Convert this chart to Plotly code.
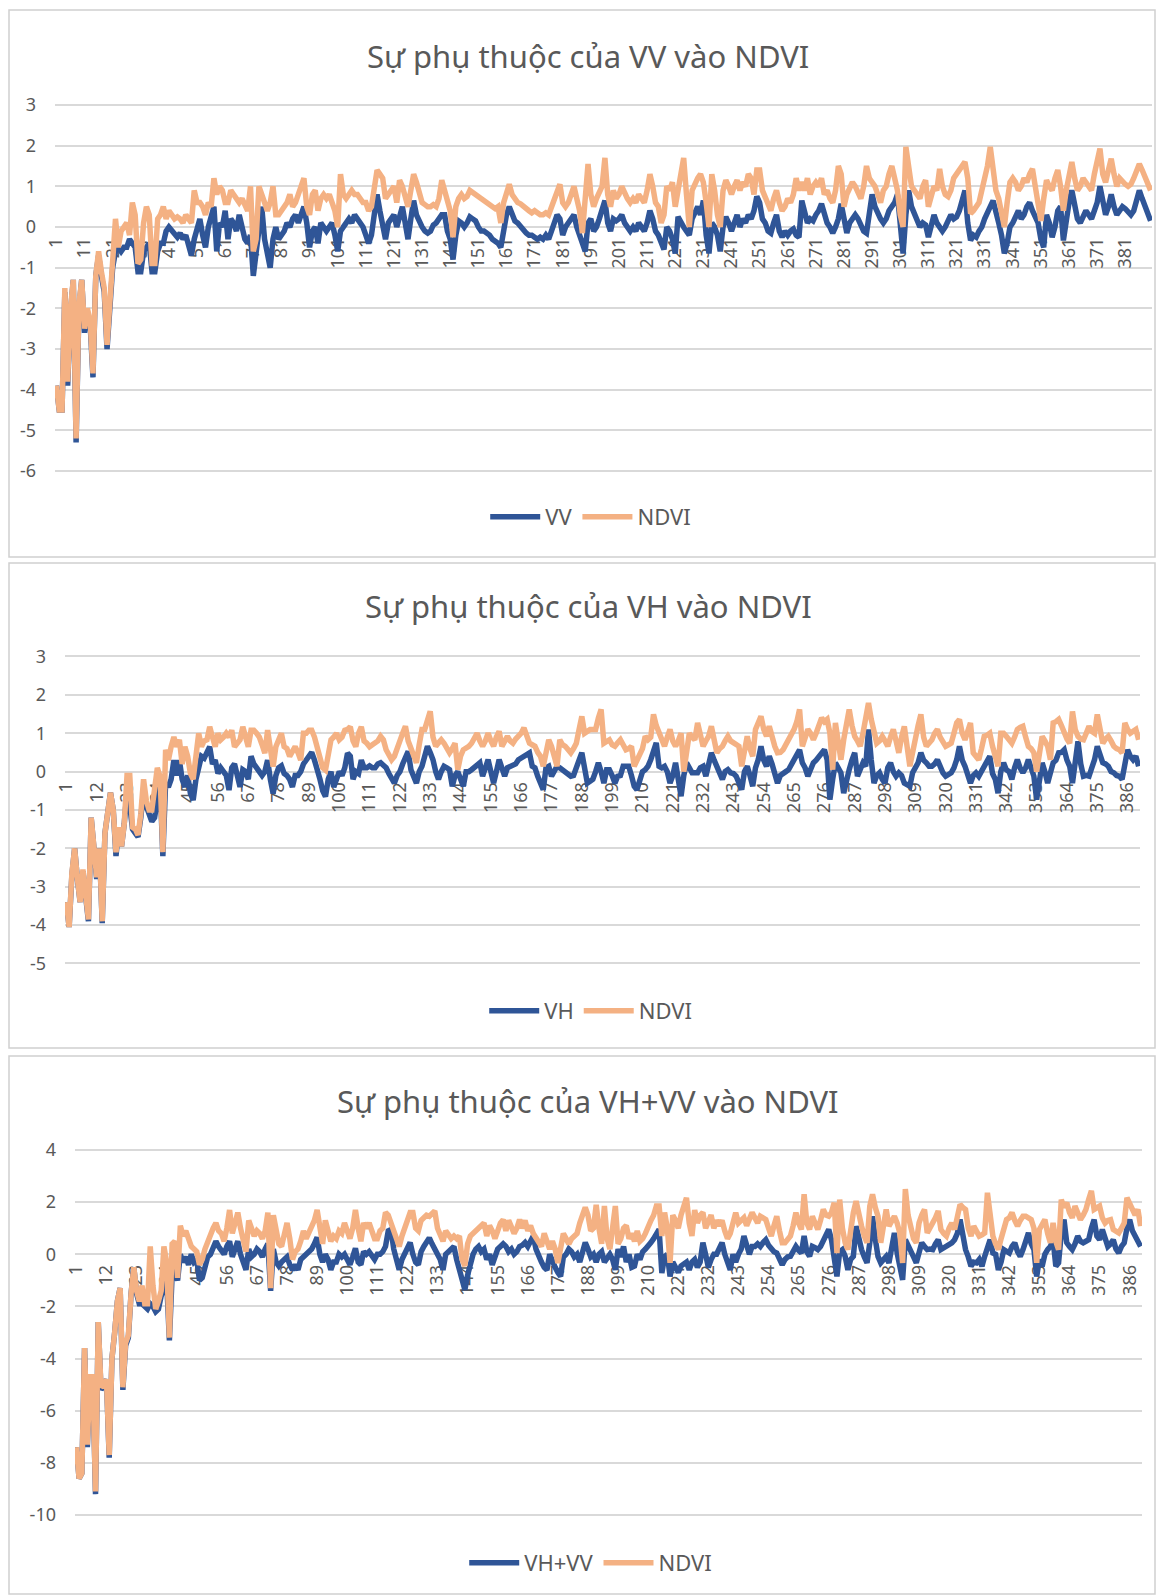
import plotly.graph_objects as go

# ---------------- data ----------------
TICKS_VV = [1, 11, 21, 31, 41, 51, 61, 71, 81, 91, 101, 111, 121, 131, 141, 151, 161, 171, 181, 191,
            201, 211, 221, 231, 241, 251, 261, 271, 281, 291, 301, 311, 321, 331, 341, 351, 361, 371, 381]
TICKS_VH = [1, 12, 23, 34, 45, 56, 67, 78, 89, 100, 111, 122, 133, 144, 155, 166, 177, 188, 199, 210,
            221, 232, 243, 254, 265, 276, 287, 298, 309, 320, 331, 342, 353, 364, 375, 386]

VV = [
    -3.9, -4.5, -4.5, -1.6, -3.9, -2.1, -1.3, -5.3, -2.0, -1.3,
    -2.6, -2.1, -2.4, -3.7, -1.2, -0.7, -1.2, -1.6, -3.0, -1.8,
    -1.0, -0.6, -0.5, -0.6, -0.5, -0.5, -0.3, -0.4, -0.5, -1.1,
    -1.1, -0.6, -0.5, -0.4, -1.1, -1.1, -0.6, -0.4, -0.4, -0.1,
    0.0, -0.1, -0.2, -0.25, -0.15, -0.3, -0.2, -0.4, -0.7, -0.3,
    0.0, 0.2, -0.2, -0.5, 0.0, 0.3, 0.5, -0.6, 0.1, 0.0,
    0.4, -0.3, 0.2, 0.1, -0.1, 0.3, 0.0, -0.3, -0.4, -0.2,
    -1.2, -0.6, 0.0, 0.5, -0.3, -0.6, -1.0, -0.3, 0.0, -0.3,
    -0.2, -0.1, 0.1, 0.0, 0.2, 0.3, 0.1, 0.3, 0.5, 0.1,
    -0.5, -0.1, 0.0, -0.4, 0.1, 0.0, -0.1, 0.0, 0.1, -0.2,
    -0.6, -0.1, 0.0, 0.1, 0.2, 0.1, 0.3, 0.2, 0.1, 0.0,
    -0.2, -0.4, -0.2, 0.3, 0.8, 0.4, 0.0, -0.3, 0.1, 0.2,
    0.3, 0.0, 0.3, 0.5, 0.1, -0.3, 0.2, 0.65, 0.3, 0.1,
    0.0, -0.1, -0.15, -0.1, 0.05, 0.1, 0.2, 0.3, 0.3, -0.1,
    -0.3, -0.8, -0.2, 0.15, 0.1, 0.0, 0.1, 0.25, 0.2, 0.15,
    0.0, -0.1, -0.1, -0.15, -0.2, -0.3, -0.35, -0.4, -0.5, -0.1,
    0.3, 0.5, 0.3, 0.15, 0.1, 0.0, -0.1, -0.15, -0.2, -0.2,
    -0.25, -0.3, -0.25, -0.3, -0.2, -0.3, -0.1, 0.1, 0.3, 0.2,
    -0.2, 0.0, 0.1, 0.2, 0.3, 0.0, -0.2, -0.4, -0.6, 0.1,
    0.2, -0.1, 0.0, 0.2, 0.4, 0.65, 0.1, -0.1, 0.2, 0.15,
    0.2, 0.3, 0.1, 0.0, -0.1, 0.0, -0.1, 0.1, 0.0, -0.1,
    0.1, 0.4, 0.2, -0.1, -0.2, -0.4, -0.55, 0.0, -0.1, -0.3,
    -0.65, 0.25, 0.1, 0.0, -0.1, -0.2, 0.2, 0.4, 0.5, 0.3,
    0.65, -0.2, -0.65, 0.1, 0.0, -0.2, -0.6, 0.0, 0.25, 0.1,
    -0.1, 0.1, 0.3, 0.0, 0.2, 0.1, 0.3, 0.2, 0.4, 0.75,
    0.6, 0.2, 0.1, -0.1, -0.15, 0.1, 0.3, -0.1, -0.25, -0.1,
    -0.2, -0.1, -0.05, -0.2, -0.25, 0.65, 0.3, 0.1, 0.2, 0.15,
    0.3, 0.4, 0.57, 0.3, 0.1, 0.0, -0.15, 0.0, 0.2, 0.57,
    0.1, -0.15, 0.1, 0.2, 0.3, 0.2, 0.0, -0.1, -0.15, 0.4,
    0.8, 0.5, 0.3, 0.2, 0.1, 0.2, 0.4, 0.5, 0.6, 0.8,
    0.2, -0.65, 0.3, 0.9, 0.5, 0.3, 0.1, 0.0, 0.1, 0.05,
    -0.25, 0.1, 0.3, 0.1, 0.0, -0.1, 0.0, 0.2, 0.3, 0.2,
    0.25, 0.4, 0.6, 0.9, 0.1, -0.33, -0.2, -0.25, -0.1, 0.0,
    0.2, 0.4, 0.5, 0.65, 0.3, 0.1, -0.2, -0.65, -0.4, 0.0,
    0.1, 0.3, 0.4, 0.2, 0.3, 0.5, 0.6, 0.4, 0.2, 0.1,
    -0.3, -0.5, 0.3, 0.1, -0.25, 0.0, 0.4, 0.5, -0.33, 0.2,
    0.6, 0.9, 0.5, 0.2, 0.1, 0.3, 0.4, 0.3, 0.2, 0.4,
    0.6, 1.0, 0.6, 0.3, 0.5, 0.8, 0.5, 0.3, 0.4, 0.5,
    0.45, 0.35, 0.3, 0.4, 0.7, 0.9, 0.7, 0.5, 0.35, 0.15,
]

NDVI_VV = [
    -3.9, -4.5, -4.5, -1.5, -3.8, -2.0, -1.3, -5.2, -1.9, -1.3,
    -2.5, -2.0, -2.3, -3.6, -1.2, -0.6, -1.1, -1.5, -2.9, -1.7,
    -0.9, 0.2, -0.5, -0.1, 0.0, 0.1, -0.2, 0.6, 0.3, -0.9,
    -0.8, 0.1, 0.5, 0.3, -0.9, -0.9, 0.2, 0.3, 0.5, 0.2,
    0.4, 0.3, 0.2, 0.25, 0.2, 0.1, 0.3, 0.2, 0.1, 0.9,
    0.6, 0.6, 0.5, 0.3, 0.6, 0.5, 1.2, 0.8, 1.0, 0.9,
    0.6, 0.6, 0.9, 0.8, 0.7, 0.6, 0.7, 0.5, 0.4, 1.0,
    -0.6, -0.3, 1.0, 0.8, 0.6, 0.4, 0.6, 1.0, 0.3, 0.3,
    0.4, 0.5, 0.6, 0.8, 0.5, 0.6, 0.8, 0.9, 1.2, 0.5,
    0.3, 0.8, 0.9, 0.4, 0.7, 0.8, 0.7, 0.8, 0.6, 0.4,
    0.0, 1.3, 0.8, 0.7, 0.8, 0.9, 0.8, 0.8, 0.7, 0.6,
    0.6, 0.4, 0.5, 1.0, 1.4, 1.3, 1.2, 0.7, 0.8, 0.9,
    1.0, 0.6, 1.15, 1.0, 0.7, 0.5, 0.9, 1.3, 1.1, 0.9,
    0.6, 0.55, 0.5, 0.5, 0.55, 0.5, 0.7, 1.15, 0.9, 0.6,
    0.4, -0.25, 0.5, 0.7, 0.8, 0.7, 0.75, 0.9, 0.85, 0.8,
    0.75, 0.7, 0.65, 0.6, 0.55, 0.5, 0.45, 0.5, 0.1, 0.6,
    0.9, 1.05, 0.8, 0.7, 0.6, 0.57, 0.5, 0.45, 0.4, 0.35,
    0.4, 0.35, 0.3, 0.3, 0.35, 0.3, 0.5, 0.6, 0.9, 1.05,
    0.6, 0.5, 0.6, 0.8, 1.0, 0.7, 0.4, -0.15, 0.6, 1.55,
    0.8, 0.5, 0.7, 0.9, 1.0, 1.7, 0.8, 0.5, 0.9, 0.7,
    0.8, 1.0, 0.8, 0.7, 0.6, 0.7, 0.6, 0.8, 0.7, 0.6,
    0.9, 1.3, 1.0, 0.6, 0.5, 0.1, 0.3, 1.0, 0.9, 1.1,
    0.5, 0.9, 1.2, 1.7, 0.8, 0.0, 0.9, 1.1, 1.2, 1.3,
    1.1, 0.6, 0.0, 1.3, 0.9, 0.3, 0.0, 0.9, 1.15, 1.0,
    0.8, 1.0, 1.15, 0.9, 1.1, 1.0, 1.3, 1.2, 0.8, 1.4,
    1.4, 0.9, 0.7, 0.5, 0.4, 0.7, 0.9, 0.6, 0.4, 0.5,
    0.7, 0.6, 0.8, 1.2, 0.9, 1.1, 0.9, 1.2, 0.8, 1.0,
    1.1, 1.0, 1.2, 0.8, 0.9, 0.7, 0.6, 0.9, 1.5, 1.3,
    0.5, 0.8, 1.0, 1.1, 1.0, 0.8, 0.7, 1.0, 1.5, 1.2,
    1.1, 1.0, 0.8, 0.6, 0.9, 1.0, 1.3, 1.5, 1.2, 0.9,
    0.3, 0.0, 1.97, 1.4, 1.0, 0.9, 0.8, 0.7, 1.0, 1.15,
    0.5, 0.8, 1.0, 0.9, 1.43, 1.0, 0.8, 0.75, 0.9, 1.2,
    1.3, 1.4, 1.5, 1.6, 1.2, 0.33, 0.4, 0.5, 0.6, 0.9,
    1.2, 1.5, 1.97, 1.4, 0.9, 0.7, 0.3, 0.0, 0.6, 1.1,
    1.2, 1.1, 0.9, 1.0, 1.2, 1.1, 1.3, 1.43, 1.0, 0.6,
    0.15, 0.7, 1.15, 1.0, 0.9, 1.2, 1.4, 1.0, 0.4, 0.9,
    1.3, 1.6, 1.2, 0.9, 1.0, 1.2, 1.1, 1.0, 0.9, 1.3,
    1.6, 1.93, 1.3, 1.1, 1.4, 1.68, 1.3, 1.0, 1.2, 1.1,
    1.05, 1.0, 1.05, 1.2, 1.4, 1.55, 1.4, 1.2, 1.0, 0.9,
]

VH = [
    -3.4, -4.05, -2.7, -2.0, -2.8, -3.4, -2.6, -3.2, -3.9, -1.2,
    -2.0, -2.8, -2.0, -3.95, -1.6, -1.0, -0.55, -1.0, -2.2, -1.45,
    -1.95, -1.35, -0.5, -0.9, -1.5, -1.6, -1.7, -1.2, -0.5, -0.9,
    -1.1, -1.3, -1.2, -0.6, -0.3, -2.2, -0.3, -0.4, -0.2, 0.3,
    -0.1, 0.3, -0.2, -0.4, -0.1, -0.57, -0.74, -0.2, 0.2, 0.4,
    0.35, 0.5, 0.65, 0.2, 0.3, -0.05, 0.1, 0.0, -0.1, -0.48,
    0.1, 0.2, -0.1, -0.4, 0.05, 0.0, -0.2, 0.4, 0.2, 0.1,
    -0.05, -0.1, 0.0, 0.3, -0.2, -0.57, -0.1, 0.1, 0.15, -0.05,
    -0.1, -0.2, -0.4, -0.1, -0.1, 0.0, 0.2, 0.3, 0.45, 0.5,
    0.3, 0.1, -0.2, -0.5, -0.65, -0.2, 0.0, -0.4, -0.2, 0.0,
    -0.1, 0.1, 0.48, 0.4, -0.2, 0.0, -0.05, 0.3, 0.1, 0.1,
    0.15, 0.1, 0.1, 0.2, 0.23, 0.15, 0.1, -0.05, -0.2, -0.3,
    -0.1, 0.0, 0.2, 0.4, 0.53, 0.05, -0.1, -0.3, 0.0, 0.14,
    0.4, 0.66, 0.5, 0.31, 0.0, -0.2, 0.0, 0.14, 0.1, 0.05,
    -0.38, -0.1, 0.0, -0.2, -0.38, 0.0, 0.0, 0.05, 0.1, 0.15,
    0.23, -0.12, 0.1, 0.31, 0.0, -0.3, 0.0, 0.31, 0.1, -0.12,
    0.1, 0.14, 0.14, 0.2, 0.31, 0.35, 0.4, 0.45, 0.49, 0.14,
    0.1, -0.12, -0.3, -0.47, 0.1, 0.14, -0.12, 0.0, 0.14, 0.1,
    0.05, 0.0, -0.03, -0.12, -0.1, 0.14, 0.3, 0.49, 0.1, -0.3,
    -0.25, -0.2, 0.0, 0.23, 0.0, -0.3, 0.05, 0.05, -0.1, -0.3,
    -0.12, -0.1, 0.14, 0.14, 0.14, -0.1, -0.38, -0.47, -0.2, 0.0,
    0.05, 0.14, 0.31, 0.5, 0.75, 0.14, 0.1, 0.14, 0.0, -0.3,
    -0.1, 0.23, -0.2, -0.64, -0.1, 0.23, 0.1, -0.03, -0.03, -0.03,
    0.1, 0.14, -0.12, 0.2, 0.49, 0.3, 0.14, -0.05, -0.2, 0.0,
    0.05, -0.03, -0.05, -0.12, -0.3, -0.47, 0.0, 0.14, -0.1, -0.38,
    0.1, 0.31, 0.66, 0.3, 0.14, 0.4, 0.2, -0.12, -0.3, -0.1,
    -0.03, 0.0, 0.05, 0.2, 0.31, 0.45, 0.57, 0.23, 0.1, -0.12,
    0.1, 0.23, 0.3, 0.4, 0.5, 0.57, 0.31, -0.73, -0.2, 0.23,
    0.1, -0.03, -0.56, -0.2, 0.05, 0.3, 0.49, -0.12, 0.1, 0.23,
    0.14, 1.1, 0.3, -0.3, -0.1, -0.03, -0.2, -0.3, 0.1, 0.23,
    0.0, -0.12, -0.03, -0.1, -0.3, -0.35, -0.38, -0.03, 0.1, 0.23,
    0.49, 0.3, 0.23, 0.14, 0.14, 0.2, 0.31, 0.1, -0.03, -0.12,
    -0.05, -0.03, 0.1, 0.31, 0.66, 0.3, 0.14, -0.1, -0.3, -0.1,
    -0.03, -0.12, 0.0, 0.14, 0.3, 0.4, -0.05, -0.2, -0.56, 0.0,
    0.23, 0.05, 0.0, -0.2, 0.1, 0.31, 0.1, -0.03, 0.1, 0.31,
    0.1, -0.12, -0.73, -0.2, 0.23, 0.0, -0.3, -0.03, 0.23, 0.3,
    0.49, 0.5, 0.57, 0.3, 0.14, -0.3, 0.3, 0.79, 0.2, -0.12,
    -0.1, -0.12, 0.1, 0.31, 0.66, 0.4, 0.23, 0.2, 0.14, 0.0,
    -0.03, -0.1, -0.12, -0.2, 0.3, 0.57, 0.4, 0.31, 0.4, 0.14,
]

NDVI_VH = [
    -3.4, -4.05, -2.65, -2.0, -2.8, -3.4, -2.55, -3.2, -3.85, -1.2,
    -2.0, -2.75, -2.0, -3.9, -1.6, -1.0, -0.55, -1.0, -2.1, -1.45,
    -1.95, -1.35, -0.1, -0.1, -1.45, -1.5, -1.65, -1.1, -0.2, -0.75,
    -1.0, -1.0, -0.4, 0.1, -0.13, -2.1, 0.57, 0.3, 0.65, 0.9,
    0.65, 0.83, 0.2, 0.65, 0.4, -0.05, -0.2, 0.6, 1.0, 0.65,
    0.8, 0.83, 1.17, 0.9, 0.65, 1.0, 0.83, 0.9, 1.0, 0.9,
    1.08, 0.65, 0.75, 0.83, 1.17, 0.9, 0.65, 1.08, 1.08, 1.0,
    0.9, 0.7, 0.48, 1.08, 0.6, 0.13, 0.65, 0.8, 1.0, 0.65,
    0.6, 0.4, 0.5, 0.65, 0.5, 0.3, 1.0, 1.0, 1.08, 1.08,
    0.9, 0.6, 0.3, 0.1, 0.04, 0.5, 0.83, 0.9, 1.0, 0.83,
    0.9, 1.08, 1.1, 1.17, 0.8, 0.65, 1.0, 1.17, 0.8, 0.74,
    0.65, 0.7, 0.74, 0.8, 0.92, 0.83, 0.57, 0.45, 0.31, 0.4,
    0.66, 0.8, 1.0, 1.18, 0.8, 0.57, 0.4, 0.23, 0.7, 1.1,
    1.1, 1.3, 1.57, 0.9, 0.66, 0.75, 0.83, 0.74, 0.6, 0.49,
    0.6, 0.74, 0.05, 0.4, 0.57, 0.6, 0.66, 0.74, 0.85, 1.0,
    0.8, 0.66, 0.8, 1.0, 0.8, 0.66, 0.9, 1.05, 0.66, 0.8,
    0.92, 0.8, 0.74, 0.85, 0.92, 1.0, 1.14, 0.9, 0.74, 0.7,
    0.66, 0.5, 0.4, 0.14, 0.6, 0.83, 0.66, 0.4, 0.14, 0.83,
    0.7, 0.66, 0.55, 0.49, 0.6, 0.74, 1.1, 1.44, 1.0, 1.05,
    1.1, 1.1, 1.1, 1.4, 1.62, 0.74, 0.8, 0.83, 0.7, 0.66,
    0.75, 0.83, 0.7, 0.57, 0.6, 0.66, 0.14, 0.3, 0.4, 0.6,
    0.92, 0.83, 0.9, 1.49, 1.2, 1.0, 0.8, 0.66, 0.9, 1.1,
    0.8, 0.66, 0.8, 1.0, 0.0, 0.6, 1.0, 0.9, 0.83, 1.27,
    0.9, 0.66, 0.8, 0.92, 1.18, 0.8, 0.49, 0.6, 0.66, 0.8,
    0.92, 0.8, 0.74, 0.7, 0.66, 0.14, 0.6, 0.92, 0.6, 0.4,
    1.1, 1.3, 1.44, 1.1, 0.92, 1.18, 0.9, 0.66, 0.49, 0.5,
    0.57, 0.7, 0.83, 1.0, 1.1, 1.3, 1.62, 0.66, 0.9, 1.1,
    1.0, 0.83, 1.0, 1.18, 1.4, 1.3, 1.36, 1.0, 0.05, 1.27,
    0.8, 0.31, 0.83, 1.2, 1.62, 1.2, 0.92, 0.8, 0.66, 1.0,
    1.4, 1.79, 1.36, 1.0, 0.74, 0.8, 0.92, 0.8, 0.66, 0.9,
    1.1, 0.8, 0.49, 0.9, 1.18, 0.66, 0.14, 0.5, 0.92, 1.2,
    1.49, 0.9, 0.66, 0.75, 0.83, 1.0, 1.1, 0.9, 0.74, 0.66,
    0.7, 0.74, 1.0, 1.27, 1.36, 1.0, 0.83, 1.1, 1.27, 0.49,
    0.4, 0.31, 0.6, 0.92, 0.95, 1.0, 0.66, 0.4, 0.14, 1.0,
    1.0, 0.92, 0.8, 0.74, 0.9, 1.1, 1.15, 1.18, 0.9, 0.66,
    0.6, 0.49, 0.0, 0.6, 0.92, 0.8, 0.66, 0.31, 1.27, 1.3,
    1.36, 1.2, 1.0, 0.85, 0.74, 1.57, 1.1, 0.92, 0.85, 0.83,
    1.0, 1.18, 1.05, 1.0, 1.49, 1.0, 0.74, 0.85, 0.92, 0.8,
    0.66, 0.6, 0.57, 0.49, 1.27, 1.1, 1.0, 1.05, 1.1, 0.83,
]

VHVV = [
    -7.4, -8.6, -8.4, -3.6, -7.4, -4.7, -4.7, -9.2, -2.6, -5.2,
    -5.0, -4.8, -7.8, -4.0, -3.0, -1.8, -1.3, -5.2, -3.5, -3.2,
    -1.5, -0.5, -1.5, -1.9, -1.9, -2.0, -2.1, -1.9, -2.0, -2.2,
    -2.1, -1.6, -1.3, -1.0, -3.3, -0.8, -0.7, -1.0, 0.0, -0.3,
    -0.1, -0.4, 0.0, -0.3, -0.2, -1.0, -0.9, -0.5, -0.1, 0.0,
    0.3, 0.5, 0.3, 0.1, 0.0, 0.3, 0.5, -0.1, 0.2, 0.5,
    0.0, -0.3, -0.6, 0.2, -0.1, 0.0, 0.2, 0.1, -0.1, 0.2,
    0.4, -1.4, 0.2, -0.3, -0.45, -0.3, -0.2, -0.1, -0.4, -0.6,
    -0.4, -0.6, -0.2, -0.1, 0.0, 0.1, 0.2, 0.4, 0.65, 0.0,
    -0.3, 0.0, -0.2, -0.6, -0.3, -0.3, 0.0, -0.1, 0.0, -0.2,
    -0.4, -0.1, 0.23, -0.3, -0.4, 0.1, 0.0, 0.1, -0.1, -0.2,
    0.0, 0.0, 0.1, 0.3, 0.9, 0.95, 0.2, -0.2, -0.6, -0.2,
    0.0, 0.3, 0.45, 0.0, -0.3, -0.4, 0.1, 0.3, 0.5, 0.63,
    0.4, 0.2, 0.0, -0.2, -0.6, 0.0, 0.1, 0.2, 0.3, -0.2,
    -0.6, -1.0, -1.36, -0.8, -0.3, 0.0, 0.2, 0.3, 0.1, 0.2,
    -0.2, 0.0, -0.4, -0.1, 0.2, 0.3, 0.4, 0.3, 0.1, 0.2,
    0.0, 0.1, 0.3, 0.35, 0.45, 0.3, 0.5, 0.7, 0.2, -0.1,
    -0.3, -0.5, -0.6, 0.0, -0.3, -0.5, -0.7, -0.85, -0.1, 0.0,
    0.2, 0.1, -0.1, 0.0, -0.3, 0.1, 0.45, 0.2, -0.1, 0.0,
    -0.3, 0.0, 0.1, -0.3, -0.1, 0.0, -0.2, -0.6, 0.2, -0.1,
    0.3, -0.3, 0.0, -0.5, -0.45, 0.0, -0.2, 0.1, 0.2, 0.3,
    0.45, 0.6, 0.8, 0.95, -0.72, -0.1, 0.0, -0.85, -0.3, -0.5,
    -0.7, -0.45, -0.4, -0.3, -0.6, -0.3, -0.2, -0.5, -0.3, 0.45,
    0.0, -0.5, -0.2, 0.0, 0.0, 0.2, 0.45, 0.0, -0.3, -0.6,
    0.0, -0.3, 0.0, 0.2, 0.7, 0.4, 0.0, 0.3, 0.3, 0.4,
    0.3, 0.45, 0.56, 0.35, 0.18, 0.1, 0.05, -0.2, -0.4, -0.2,
    -0.1, -0.08, 0.1, 0.3, 0.15, 0.05, 0.7, 0.1, -0.08, 0.3,
    0.25, 0.18, 0.3, 0.56, 0.8, 0.95, 0.56, -0.08, -0.85, 0.1,
    0.18, -0.08, -0.6, -0.2, -0.08, 1.08, 0.5, 0.18, -0.1, -0.33,
    0.44, 1.46, 0.6, -0.08, -0.33, -0.2, -0.08, -0.33, 0.4, 0.82,
    0.05, -0.5, -0.98, 0.56, 0.3, 0.05, -0.1, -0.33, 0.1, 0.44,
    0.3, 0.18, 0.2, 0.18, 0.4, 0.56, 0.18, 0.25, 0.3, 0.35,
    0.44, 0.56, 0.8, 1.33, 0.7, 0.18, -0.1, -0.46, -0.3, -0.33,
    -0.2, -0.46, -0.08, 0.3, 0.56, 0.05, 0.0, -0.6, -0.3, 0.18,
    0.1, 0.05, 0.3, 0.44, 0.1, -0.08, 0.18, 0.5, 0.82, 0.4,
    0.18, -0.85, -0.2, -0.46, 0.0, 0.18, 0.3, 0.56, -0.46, -0.33,
    0.8, 1.33, 0.44, 0.3, 0.18, 0.4, 0.7, 0.5, 0.44, 0.5,
    0.56, 1.0, 1.33, 0.7, 0.56, 0.95, 0.6, 0.3, 0.4, 0.56,
    0.2, 0.05, 0.3, 0.44, 1.0, 1.33, 0.9, 0.7, 0.5, 0.3,
]

NDVI_VHVV = [
    -7.4, -8.6, -8.4, -3.6, -7.3, -4.7, -4.7, -9.1, -2.6, -5.1,
    -5.0, -4.8, -7.7, -4.0, -3.0, -1.8, -1.3, -5.1, -3.4, -3.1,
    -1.5, -0.5, -1.4, -1.8, -1.2, -1.9, -1.9, 0.3, -1.2, -2.1,
    -1.8, -1.4, 0.3, -0.3, -3.2, 0.4, 0.5, -0.9, 1.1, 0.7,
    0.9, 0.5, 0.3, 0.2, 0.1, -0.4, -0.2, 0.2, 0.5, 0.8,
    1.0, 1.2, 0.9, 0.8, 0.5, 1.0, 1.7, 0.8, 1.3, 1.6,
    1.0, 0.6, 0.1, 1.3, 0.9, 0.7, 0.9, 0.8, 0.6, 0.9,
    1.6, -1.3, 1.5, 0.9, 0.4, 0.3, 0.8, 1.2, 0.6, -0.2,
    0.1, 0.2, 0.5, 0.9, 0.6, 0.8, 1.0, 1.3, 1.7, 0.9,
    0.4, 1.3, 0.9, 0.5, 0.7, 0.6, 0.9, 0.8, 1.2, 0.9,
    0.6, 1.0, 1.7, 1.0, 0.5, 1.2, 1.0, 1.2, 0.9, 0.6,
    0.6, 0.9, 1.0, 1.6, 1.5, 1.2, 0.8, 0.6, 0.3, 0.7,
    1.0, 1.4, 1.6, 1.6, 1.0, 0.9, 1.3, 1.4, 1.5, 1.46,
    1.6, 1.66, 1.0, 0.7, 0.5, 0.9, 0.7, 0.6, 0.7, 0.6,
    0.7, -0.2, -0.45, 0.4, 0.7, 0.8, 0.9, 1.0, 1.1, 1.2,
    0.7, 1.1, 0.9, 0.6, 0.9, 1.2, 1.33, 0.9, 1.3, 1.1,
    0.8, 1.0, 1.33, 1.0, 1.3, 0.9, 1.1, 0.8, 0.6, 0.4,
    0.3, 0.8, 0.5, 0.2, 0.5, 0.2, -0.33, 0.4, 0.8, 0.6,
    0.4, 0.6, 0.7, 0.8, 1.2, 1.5, 1.8, 1.5, 0.9, 1.0,
    1.9, 1.0, 0.4, 1.85, 0.6, 0.2, 1.0, 1.85, 0.4, 0.6,
    1.0, 1.1, 0.6, 0.8, 0.5, 0.9, 0.5, 0.6, 0.8, 1.1,
    1.3, 1.5, 1.85, 1.85, 0.7, 1.6, 1.0, -0.33, 1.5, 1.3,
    1.0, 1.5, 1.8, 2.17, 1.2, 0.7, 1.7, 1.2, 1.5, 1.6,
    1.0, 1.2, 1.5, 1.0, 1.3, 1.1, 1.3, 0.9, 0.6, 0.8,
    1.3, 1.6, 1.2, 1.3, 1.4, 1.1, 1.3, 1.6, 1.4, 1.2,
    1.46, 1.4, 1.33, 1.0, 0.7, 1.1, 1.46, 0.9, 0.44, 0.44,
    0.6, 0.7, 1.1, 1.6, 1.2, 0.95, 2.3, 1.2, 0.95, 1.46,
    1.2, 0.95, 1.3, 1.72, 1.5, 1.46, 1.6, 1.98, 0.05, 2.1,
    1.0, 0.44, 0.18, 1.08, 1.6, 2.04, 1.4, 1.08, 0.7, 0.44,
    1.85, 2.3, 1.8, 1.46, 0.44, 1.2, 1.72, 1.08, 1.3, 1.46,
    1.2, 0.8, -0.33, 2.5, 1.5, 1.08, 0.6, 0.44, 1.2, 1.5,
    1.72, 0.82, 1.0, 1.2, 1.4, 1.66, 0.95, 0.8, 0.7, 1.0,
    1.2, 0.95, 1.4, 1.91, 1.8, 1.72, 1.0, 0.7, 1.08, 0.9,
    0.7, 0.75, 0.82, 2.36, 1.5, 0.7, 0.4, 0.18, 0.6, 0.95,
    1.33, 1.4, 1.6, 1.3, 1.08, 1.3, 1.46, 1.46, 1.4, 1.33,
    1.0, -0.33, 0.95, 1.2, 1.33, 0.8, 0.44, 1.2, 0.5, 0.18,
    2.1, 1.8, 1.98, 1.6, 1.4, 1.85, 1.5, 1.33, 1.5, 1.72,
    2.1, 2.43, 1.72, 1.8, 1.85, 1.4, 1.2, 1.3, 1.33, 0.95,
    0.9, 0.82, 1.0, 1.2, 2.17, 1.9, 1.72, 1.5, 1.72, 1.08,
]

TITLES = ["Sự phụ thuộc của VV vào NDVI",
          "Sự phụ thuộc của VH vào NDVI",
          "Sự phụ thuộc của VH+VV vào NDVI"]
SERIES_NAMES = ["VV", "VH", "VH+VV"]

# ---------------- styling / layout ----------------
W, H = 1156, 1595
BLUE = "#2F5597"
ORANGE = "#F4B183"
GRAY = "#595959"
GRID = "#D9D9D9"
BORDER = "#D0D0D0"
FONT = "Noto Sans"


def py(px):
    return 1 - px / H


def pxx(px):
    return px / W


panels = [
    dict(s1=VV, s2=NDVI_VV, ticks=TICKS_VV, ymin=-6, ymax=3, dtick=1,
         ytop=105, ybot=471, xl=55, xr=1152, title_y=56, legend_y=517,
         box=(9, 10, 1155, 557)),
    dict(s1=VH, s2=NDVI_VH, ticks=TICKS_VH, ymin=-5, ymax=3, dtick=1,
         ytop=656.5, ybot=963.5, xl=65, xr=1140, title_y=606, legend_y=1011,
         box=(9, 563, 1155, 1048)),
    dict(s1=VHVV, s2=NDVI_VHVV, ticks=TICKS_VH, ymin=-10, ymax=4, dtick=2,
         ytop=1150, ybot=1515, xl=75, xr=1142, title_y=1101, legend_y=1563,
         box=(9, 1056, 1155, 1594)),
]

fig = go.Figure()
layout = dict(
    template="none",
    width=W, height=H, autosize=False,
    margin=dict(l=0, r=0, t=0, b=0, pad=0),
    paper_bgcolor="white", plot_bgcolor="white",
    font=dict(family=FONT, color=GRAY),
    showlegend=True,
    shapes=[], annotations=[],
)

for i, p in enumerate(panels, start=1):
    sfx = "" if i == 1 else str(i)
    xa, ya = "x" + sfx, "y" + sfx
    leg = "legend" + sfx
    ppu = (p["ybot"] - p["ytop"]) / (p["ymax"] - p["ymin"])
    pad = 0.06
    top_px = p["ytop"] - pad * ppu
    bot_px = p["ybot"] + pad * ppu
    zero_px = p["ytop"] + p["ymax"] * ppu

    x1 = list(range(1, len(p["s1"]) + 1))
    x2 = list(range(1, len(p["s2"]) + 1))
    fig.add_trace(go.Scatter(x=x1, y=p["s1"], mode="lines", name=SERIES_NAMES[i - 1],
                             line=dict(color=BLUE, width=5.5), xaxis=xa, yaxis=ya,
                             legend=leg, hoverinfo="skip"))
    fig.add_trace(go.Scatter(x=x2, y=p["s2"], mode="lines", name="NDVI",
                             line=dict(color=ORANGE, width=5.5), xaxis=xa, yaxis=ya,
                             legend=leg, hoverinfo="skip"))

    n = max(len(p["s1"]), len(p["s2"]))
    layout["xaxis" + sfx] = dict(
        domain=[pxx(p["xl"]), pxx(p["xr"])],
        range=[0.5, n + 0.5],
        anchor="free", position=py(zero_px),
        tickmode="array", tickvals=p["ticks"], ticktext=[str(t) for t in p["ticks"]],
        tickangle=-90, tickfont=dict(size=18, color=GRAY, family=FONT),
        ticks="", ticklabelstandoff=6, automargin=False,
        showgrid=False, zeroline=False, showline=False,
        layer="below traces", fixedrange=True,
    )
    yt = list(range(p["ymin"], p["ymax"] + 1, p["dtick"]))
    layout["yaxis" + sfx] = dict(
        domain=[py(bot_px), py(top_px)],
        range=[p["ymin"] - pad, p["ymax"] + pad],
        anchor=xa,
        tickmode="array", tickvals=yt, ticktext=[str(v) for v in yt],
        tickfont=dict(size=18, color=GRAY, family=FONT),
        ticks="", ticklabelstandoff=18, automargin=False,
        showgrid=True, gridcolor=GRID, gridwidth=1.5,
        zeroline=False, showline=False, fixedrange=True,
    )
    layout[leg] = dict(
        orientation="h", x=0.511, xanchor="center",
        y=py(p["legend_y"]), yanchor="middle",
        font=dict(size=22, color=GRAY, family=FONT),
        bgcolor="rgba(0,0,0,0)", itemwidth=50,
    )
    bx0, by0, bx1, by1 = p["box"]
    layout["shapes"].append(dict(
        type="rect", xref="paper", yref="paper",
        x0=pxx(bx0), x1=pxx(bx1), y0=py(by1), y1=py(by0),
        line=dict(color=BORDER, width=1.5), fillcolor="rgba(0,0,0,0)", layer="below"))
    layout["annotations"].append(dict(
        text=TITLES[i - 1], x=pxx(588), y=py(p["title_y"]),
        xref="paper", yref="paper", xanchor="center", yanchor="middle",
        showarrow=False, font=dict(size=31, color=GRAY, family=FONT)))

fig.update_layout(**layout)
fig.write_html(
    "out.html",
    config={"displayModeBar": False, "staticPlot": False},
    post_script="document.body.style.margin='0';document.body.style.overflow='hidden';",
)
